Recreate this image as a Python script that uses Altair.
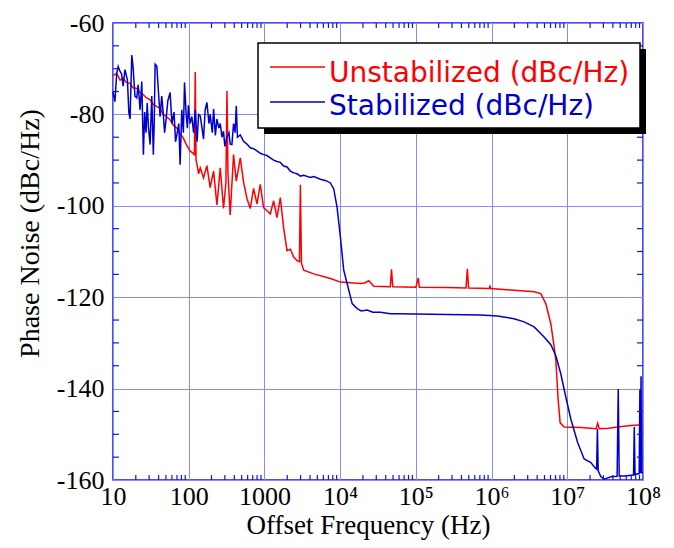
import altair as alt
import pandas as pd

# ---- data (frequency in Hz, phase noise in dBc/Hz) ----
unstabilized = [
    (10, -71.5), (11.2, -71.0), (12.4, -72.5), (13.6, -72.1), (15, -73.0), (16.8, -73.2),
    (18.4, -74.2), (20.6, -74.3), (22.8, -75.2), (25.2, -75.7), (27.3, -76.3), (30.9, -76.8),
    (34.1, -77.8), (37.9, -78.3), (41.9, -78.6), (45.9, -80.0), (50.3, -80.4), (56.8, -81.2),
    (62.2, -82.3), (69.7, -83.0), (77, -84.2), (85, -85.2), (92.5, -86.5), (104, -88.0),
    (116, -88.6), (119, -89.0), (122, -70.7), (125, -90.0), (129, -91.0), (135, -93.0),
    (142, -91.7), (157, -93.9), (174, -91.2), (192, -96.0), (213, -92.4), (236, -99.8),
    (261, -91.7), (288, -100.6), (310, -95.0), (320, -74.9), (330, -93.0), (353, -102.0),
    (391, -88.8), (425, -94.6), (480, -89.5), (530, -94.8), (588, -98.4), (650, -100.6),
    (719, -96.2), (798, -99.6), (881, -95.3), (975, -100.4), (1081, -101.1), (1196, -101.8),
    (1322, -98.9), (1465, -102.6), (1622, -98.2), (1795, -104.9), (1990, -109.8), (2200, -109.5),
    (2435, -111.2), (2700, -112.0), (2900, -112.2), (2985, -95.4), (3080, -112.5), (3300, -114.1),
    (4477, -114.9), (7443, -115.9), (10090, -116.7), (18550, -117.0), (21000, -116.9),
    (23890, -116.4), (27800, -117.6), (46000, -117.7), (47700, -113.9), (49500, -117.7),
    (100000, -117.8), (107700, -115.8), (111000, -117.8), (260000, -117.9), (460000, -118.0),
    (478900, -113.8), (497000, -118.0), (930000, -118.1), (953000, -117.6), (976000, -118.1),
    (1.98e6, -118.5), (3.65e6, -118.8), (4.47e6, -119.2), (5.2e6, -121.4), (6.06e6, -125.8),
    (6.7e6, -130.8), (7.06e6, -133.7), (7.57e6, -142.4), (8.05e6, -147.5), (9.1e6, -148.4),
    (1.51e7, -148.5), (2.4e7, -148.8), (2.52e7, -147.6), (2.65e7, -148.8), (3.5e7, -148.7),
    (4.62e7, -148.4), (6.94e7, -148.1), (1e8, -147.9),
]

stabilized = [
    (10, -75.0), (10.6, -77.2), (11.2, -71.0), (11.7, -69.5), (12.4, -70.6), (13, -71.2),
    (13.6, -73.8), (14.4, -70.2), (15.5, -72.5), (16.2, -79.6), (16.8, -81.0), (17.7, -67.0),
    (18.4, -69.5), (19.5, -76.0), (20.6, -76.4), (21.5, -73.5), (22.8, -79.0), (24, -72.8),
    (25.2, -88.8), (26.2, -79.5), (27.3, -84.0), (28.3, -77.5), (29.3, -82.5), (30.9, -86.6),
    (32.5, -76.0), (34.1, -88.8), (35, -82.0), (36, -69.0), (37.9, -69.4), (40, -75.5),
    (41.9, -80.5), (44, -76.0), (46, -79.5), (48, -84.0), (50.3, -81.0), (53, -77.0),
    (56.8, -75.2), (60, -82.0), (64, -79.5), (67, -86.0), (69.7, -84.5), (74, -82.0),
    (77, -91.0), (81, -79.0), (85, -84.0), (88, -73.0), (92.5, -80.0), (96, -83.0),
    (99, -78.0), (104, -82.0), (110, -80.5), (116, -84.0), (122, -79.0), (129, -86.0),
    (135, -80.0), (142, -80.3), (150, -83.0), (157, -85.4), (165, -79.0), (174, -77.4),
    (185, -82.0), (192, -80.0), (205, -84.0), (213, -78.8), (225, -84.6), (236, -81.0),
    (250, -83.0), (261, -82.0), (275, -85.0), (288, -83.7), (300, -87.0), (320, -85.0),
    (340, -84.0), (353, -86.5), (372, -86.6), (391, -82.0), (410, -84.0), (425, -78.1),
    (440, -85.0), (480, -84.5), (530, -85.9), (588, -86.5), (650, -87.3), (719, -87.5),
    (798, -88.0), (881, -88.5), (975, -88.8), (1081, -89.0), (1196, -89.5), (1322, -90.0),
    (1465, -90.3), (1622, -90.5), (1795, -91.3), (1990, -91.5), (2200, -92.4), (2435, -92.8),
    (2700, -93.0), (2985, -93.5), (3300, -93.3), (4045, -93.8), (4477, -93.6), (5487, -94.2),
    (6500, -94.5), (7443, -95.0), (8230, -96.3), (9120, -100.4), (10090, -106.9),
    (11150, -114.1), (12360, -117.0), (14410, -121.4), (16790, -122.5), (19000, -123.0),
    (22740, -122.8), (27000, -123.3), (34100, -123.3), (46000, -123.6), (56750, -123.6),
    (94200, -123.7), (260400, -123.8), (718000, -123.9), (1.194e6, -124.1), (1.98e6, -124.7),
    (2.69e6, -125.4), (3.65e6, -126.5), (4.94e6, -128.7), (6.06e6, -130.4), (7.06e6, -132.8),
    (8.22e6, -136.8), (9.58e6, -141.9), (1.115e7, -146.7), (1.37e7, -151.8), (1.67e7, -155.4),
    (2.05e7, -156.2), (2.35e7, -157.4), (2.44e7, -157.6), (2.5e7, -148.8), (2.56e7, -158.0),
    (2.78e7, -159.3), (3.08e7, -159.8), (3.77e7, -159.3), (4.55e7, -159.2), (4.71e7, -140.1),
    (4.85e7, -159.1), (5.66e7, -159.1), (7.5e7, -158.9), (7.67e7, -148.4), (7.85e7, -158.8),
    (8.9e7, -158.6), (9.1e7, -140.2), (9.25e7, -158.5), (9.42e7, -137.3), (9.6e7, -158.4),
    (1e8, -158.3),
]

x_major = [10, 100, 1000, 1e4, 1e5, 1e6, 1e7, 1e8]
y_major = [-160, -140, -120, -100, -80, -60]
x_minor = [m * d for d in [10, 100, 1000, 1e4, 1e5, 1e6, 1e7] for m in range(2, 10)]
y_minor = [v for v in range(-155, -60, 5) if v % 20 != 0]

series_names = ["Unstabilized (dBc/Hz)", "Stabilized (dBc/Hz)"]
RED = "#ff0000"
BLUE = "#0000cc"
AXBLUE = "#1010ff"
GRID = "#8a8aff"

W, H = 530, 457

red_df = pd.DataFrame(unstabilized, columns=["f", "db"])
blue_df = pd.DataFrame(stabilized, columns=["f", "db"])

xlab = ("datum.value == 10 ? '10' : datum.value == 100 ? '100' : datum.value == 1000 ? '1000' : "
        "datum.value == 10000 ? '10⁴' : datum.value == 100000 ? '10⁵' : "
        "datum.value == 1000000 ? '10⁶' : datum.value == 10000000 ? '10⁷' : '10⁸'")

X = alt.X("f:Q", scale=alt.Scale(type="log", domain=[10, 1e8], nice=False),
          axis=alt.Axis(values=x_major, labelExpr=xlab, title="Offset Frequency (Hz)",
                        labelPadding=3, labelFontSize=26, titleFontSize=27,
                        titleX=255, titleY=53, titleBaseline="alphabetic",
                        titleAlign="center", labelFlush=False, labelOverlap=False))
Y = alt.Y("db:Q", scale=alt.Scale(domain=[-160, -60], nice=False, zero=False),
          axis=alt.Axis(values=y_major, labelExpr="'' + datum.value", title="Phase Noise (dBc/Hz)",
                        labelPadding=9, labelFontSize=26, titleX=-83, titleY=210,
                        titleBaseline="middle", titleAlign="center", titleAngle=270,
                        labelFlush=False, labelOverlap=False))

red_line = alt.Chart(red_df).mark_line(color=RED, strokeWidth=1.5).encode(x=X, y=Y)
blue_line = alt.Chart(blue_df).mark_line(color=BLUE, strokeWidth=1.5).encode(x=X, y=Y)

xt = pd.DataFrame({"f": x_minor})
yt = pd.DataFrame({"db": y_minor})
xt_bot = alt.Chart(xt).mark_rule(color=AXBLUE, strokeWidth=1.2).encode(
    x=X, y=alt.value(H), y2=alt.value(H - 5))
xt_top = alt.Chart(xt).mark_rule(color=AXBLUE, strokeWidth=1.2).encode(
    x=X, y=alt.value(0), y2=alt.value(5))
yt_left = alt.Chart(yt).mark_rule(color=AXBLUE, strokeWidth=1.2).encode(
    y=Y, x=alt.value(0), x2=alt.value(6))
yt_right = alt.Chart(yt).mark_rule(color=AXBLUE, strokeWidth=1.2).encode(
    y=Y, x=alt.value(W - 6), x2=alt.value(W))

one = pd.DataFrame({"k": [0]})
shadow = alt.Chart(one).mark_rect(color="black").encode(
    x=alt.value(151), x2=alt.value(533), y=alt.value(26), y2=alt.value(111))
box = alt.Chart(one).mark_rect(fill="white", stroke="black", strokeWidth=1.5).encode(
    x=alt.value(145), x2=alt.value(527), y=alt.value(20), y2=alt.value(105))
leg_red = alt.Chart(one).mark_rule(color=RED, strokeWidth=1.5).encode(
    x=alt.value(157), x2=alt.value(212), y=alt.value(44))
leg_blue = alt.Chart(one).mark_rule(color=BLUE, strokeWidth=1.5).encode(
    x=alt.value(157), x2=alt.value(212), y=alt.value(79))
txt_red = alt.Chart(one).mark_text(font="DejaVu Sans", fontSize=28, color=RED, align="left",
                                   baseline="alphabetic").encode(
    x=alt.value(216), y=alt.value(59), text=alt.value(series_names[0]))
txt_blue = alt.Chart(one).mark_text(font="DejaVu Sans", fontSize=28, color=BLUE, align="left",
                                    baseline="alphabetic").encode(
    x=alt.value(216), y=alt.value(92), text=alt.value(series_names[1]))

chart = alt.layer(
    red_line, blue_line, xt_bot, xt_top, yt_left, yt_right,
    shadow, box, leg_red, leg_blue, txt_red, txt_blue,
).properties(
    width=W, height=H,
    autosize=alt.AutoSizeParams(type="none"),
    padding={"left": 105, "top": 15, "right": 23, "bottom": 60},
    background="white",
).configure_axis(
    labelFont="Liberation Serif", labelFontSize=27, labelColor="black",
    titleFont="Liberation Serif", titleFontSize=28, titleFontWeight="normal", titleColor="black",
    grid=True, gridColor=GRID, gridWidth=1, gridOpacity=1,
    domain=False, ticks=False,
).configure_view(stroke=AXBLUE, strokeWidth=1.5)

chart.save("out.html", embed_options={"renderer": "svg", "actions": False})
